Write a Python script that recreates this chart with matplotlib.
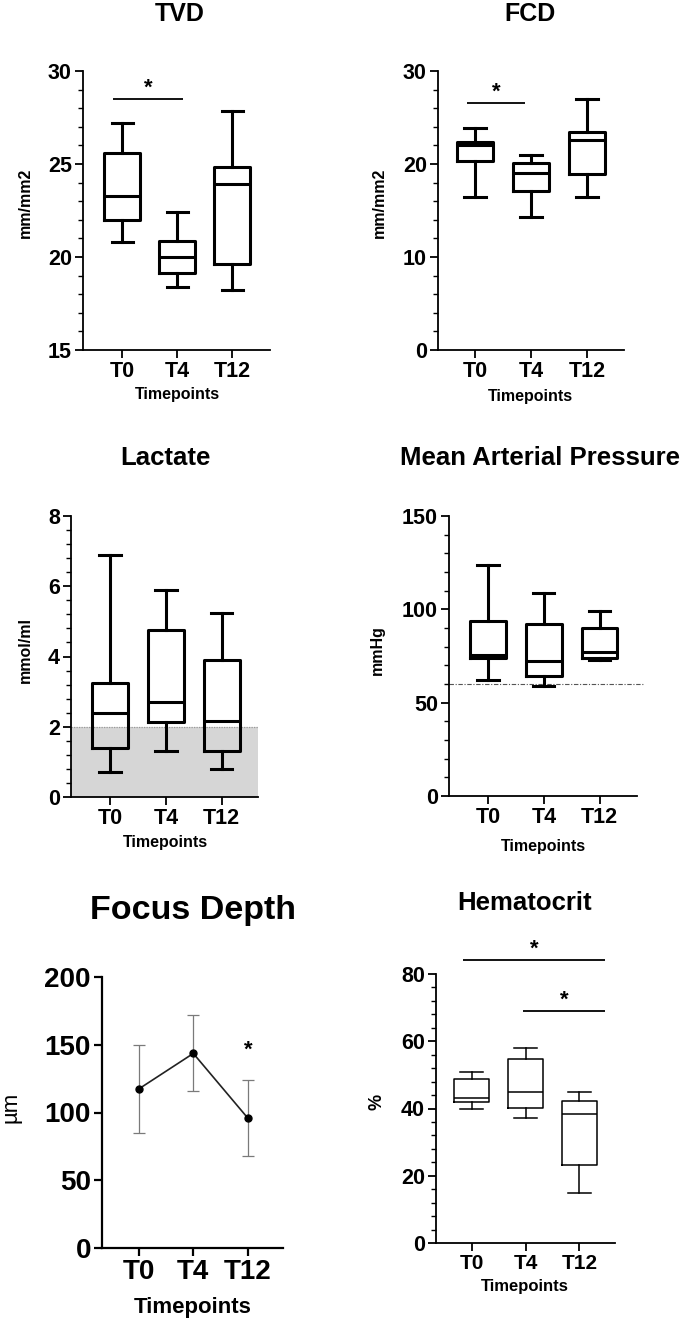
import matplotlib
matplotlib.use("Agg")
import matplotlib.pyplot as plt
from matplotlib.ticker import MultipleLocator, NullLocator

plt.rcParams['font.family'] = ['Liberation Sans', 'DejaVu Sans']

W, H = 685, 1323
fig = plt.figure(figsize=(W / 100, H / 100), dpi=100)

timepoints = ["T0", "T4", "T12"]

# ---- data (box stats: lower whisker, Q1, median, Q3, upper whisker) ----
tvd_low = [20.8, 18.4, 18.2]
tvd_q1 = [22.0, 19.15, 19.6]
tvd_med = [23.3, 20.0, 23.9]
tvd_q3 = [25.6, 20.85, 24.85]
tvd_high = [27.2, 22.4, 27.85]

fcd_low = [16.5, 14.3, 16.5]
fcd_q1 = [20.3, 17.1, 18.9]
fcd_med = [22.0, 19.05, 22.55]
fcd_q3 = [22.4, 20.1, 23.45]
fcd_high = [23.9, 20.95, 27.0]

lac_low = [0.71, 1.30, 0.81]
lac_q1 = [1.40, 2.14, 1.30]
lac_med = [2.39, 2.71, 2.16]
lac_q3 = [3.25, 4.75, 3.91]
lac_high = [6.89, 5.89, 5.23]
lac_normal = 2.0

map_low = [62.4, 59.0, 73.1]
map_q1 = [74.0, 64.2, 73.7]
map_med = [75.6, 72.4, 76.9]
map_q3 = [93.8, 92.4, 89.9]
map_high = [124.0, 108.8, 99.0]
map_threshold = 60

focus_mean = [117.3, 143.6, 95.7]
focus_err = [32.5, 28.0, 28.0]

hct_low = [39.9, 37.1, 15.0]
hct_q1 = [41.9, 40.2, 23.2]
hct_med = [43.0, 44.8, 38.4]
hct_q3 = [48.7, 54.7, 42.3]
hct_high = [51.0, 57.95, 44.9]

# significance bars: (x start, x end, height)
tvd_sig = [(0.84, 2.11, 28.5)]
fcd_sig = [(0.86, 1.89, 26.6)]
hct_sig = [(0.85, 3.48, 84.3), (1.95, 3.48, 69.1)]
focus_star = (3, 146)


def px_axes(left, top, right, bottom):
    return fig.add_axes([left / W, 1 - bottom / H, (right - left) / W, (bottom - top) / H])


def stats(low, q1, med, q3, high):
    return [dict(whislo=a, q1=b, med=c, q3=d, whishi=e, fliers=[])
            for a, b, c, d, e in zip(low, q1, med, q3, high)]


def style(ax, ylim, major, minor, xlim, ytick_fs=15.5, xtick_fs=15.5, spine_lw=1.3):
    ax.set_ylim(*ylim)
    ax.set_xlim(*xlim)
    ax.yaxis.set_major_locator(MultipleLocator(major))
    if minor:
        ax.yaxis.set_minor_locator(MultipleLocator(minor))
    else:
        ax.yaxis.set_minor_locator(NullLocator())
    ax.set_xticks([1, 2, 3])
    ax.set_xticklabels(timepoints)
    for s in ['top', 'right']:
        ax.spines[s].set_visible(False)
    for s in ['left', 'bottom']:
        ax.spines[s].set_linewidth(spine_lw)
    ax.tick_params(axis='both', which='major', length=6, width=spine_lw, pad=2)
    ax.tick_params(axis='y', which='minor', length=3.5, width=1.0)
    for lbl in ax.get_yticklabels():
        lbl.set_fontweight('bold')
        lbl.set_fontsize(ytick_fs)
    for lbl in ax.get_xticklabels():
        lbl.set_fontweight('bold')
        lbl.set_fontsize(xtick_fs)
    ax.patch.set_alpha(0)


def boxes(ax, st, lw=2.2, widths=0.64, capw=0.38):
    props = dict(color='black', linewidth=lw)
    ax.bxp(st, positions=[1, 2, 3], widths=widths, capwidths=capw, showfliers=False,
           boxprops=props, whiskerprops=props, capprops=props,
           medianprops=dict(color='black', linewidth=lw))


def sig(ax, bars, fs=16):
    for x0, x1, y in bars:
        ax.plot([x0, x1], [y, y], color='black', lw=1.3, clip_on=False, solid_capstyle='butt')
        ax.text((x0 + x1) / 2, y, '*', ha='center', va='bottom', fontsize=fs,
                fontweight='bold', clip_on=False)


def ftext(x, y, s, size, rot=0, weight='bold'):
    fig.text(x / W, 1 - y / H, s, ha='center', va='center', fontsize=size,
             fontweight=weight, rotation=rot)


# ---- TVD ----
ax = px_axes(83, 71, 270, 350)
boxes(ax, stats(tvd_low, tvd_q1, tvd_med, tvd_q3, tvd_high))
style(ax, (15, 30), 5, 1, (0.29, 3.69))
sig(ax, tvd_sig)
ftext(180, 14, 'TVD', 18)
ftext(177, 395, 'Timepoints', 11.5)
ftext(25, 203, 'mm/mm2', 11.5, rot=90)

# ---- FCD ----
ax = px_axes(438, 71, 624, 350)
boxes(ax, stats(fcd_low, fcd_q1, fcd_med, fcd_q3, fcd_high))
style(ax, (0, 30), 10, 2, (0.34, 3.66))
sig(ax, fcd_sig)
ftext(530, 14, 'FCD', 18)
ftext(530, 396, 'Timepoints', 11.5)
ftext(379, 203, 'mm/mm2', 11.5, rot=90)

# ---- Lactate ----
ax = px_axes(71, 516, 258, 797)
ax.axhspan(0, lac_normal, color='#d6d6d6', lw=0, zorder=0)
ax.axhline(lac_normal, color='#9a9a9a', lw=0.9, ls=(0, (1, 1)), zorder=0.5)
boxes(ax, stats(lac_low, lac_q1, lac_med, lac_q3, lac_high))
style(ax, (0, 8), 2, 0.4, (0.30, 3.65))
ftext(165, 458, 'Lactate', 18.5)
ftext(165, 843, 'Timepoints', 11.5)
ftext(25, 650, 'mmol/ml', 11.5, rot=90)

# ---- Mean Arterial Pressure ----
ax = px_axes(449, 516, 637, 796)
ax.axhline(map_threshold, color='#555555', lw=0.8, ls=(0, (4, 1.5, 1, 1.5)), xmax=1.03,
           clip_on=False, zorder=0.5)
boxes(ax, stats(map_low, map_q1, map_med, map_q3, map_high))
style(ax, (0, 150), 50, 10, (0.30, 3.67))
ftext(540, 458, 'Mean Arterial Pressure', 18.5)
ftext(543, 846, 'Timepoints', 11.5)
ftext(377, 650, 'mmHg', 11.5, rot=90)

# ---- Focus Depth ----
ax = px_axes(102, 977, 283, 1248)
x = [1, 2, 3]
ax.errorbar(x, focus_mean, yerr=focus_err, fmt='none', ecolor='#7a7a7a', elinewidth=0.9,
            capsize=4, capthick=0.9, zorder=2)
ax.plot(x, focus_mean, color='#222222', lw=1.2, marker='o', markersize=5,
        markerfacecolor='black', markeredgecolor='black', zorder=3)
style(ax, (0, 200), 50, None, (0.33, 3.64), ytick_fs=20, xtick_fs=20, spine_lw=1.6)
ax.text(focus_star[0], focus_star[1], '*', ha='center', va='center', fontsize=16, fontweight='bold')
ftext(193, 910, 'Focus Depth', 24.5)
ftext(193, 1308, 'Timepoints', 16)
ftext(11, 1107, 'µm', 16, rot=90, weight='normal')

# ---- Hematocrit ----
ax = px_axes(436, 974, 615, 1243)
boxes(ax, stats(hct_low, hct_q1, hct_med, hct_q3, hct_high), lw=1.1, widths=0.66, capw=0.42)
style(ax, (0, 80), 20, 4, (0.34, 3.66), ytick_fs=15.5, xtick_fs=15, spine_lw=1.3)
sig(ax, hct_sig)
ftext(525, 903, 'Hematocrit', 18.5)
ftext(525, 1287, 'Timepoints', 12)
ftext(377, 1102, '%', 13, rot=90)

fig.savefig('out.png', dpi=100, facecolor='white')
